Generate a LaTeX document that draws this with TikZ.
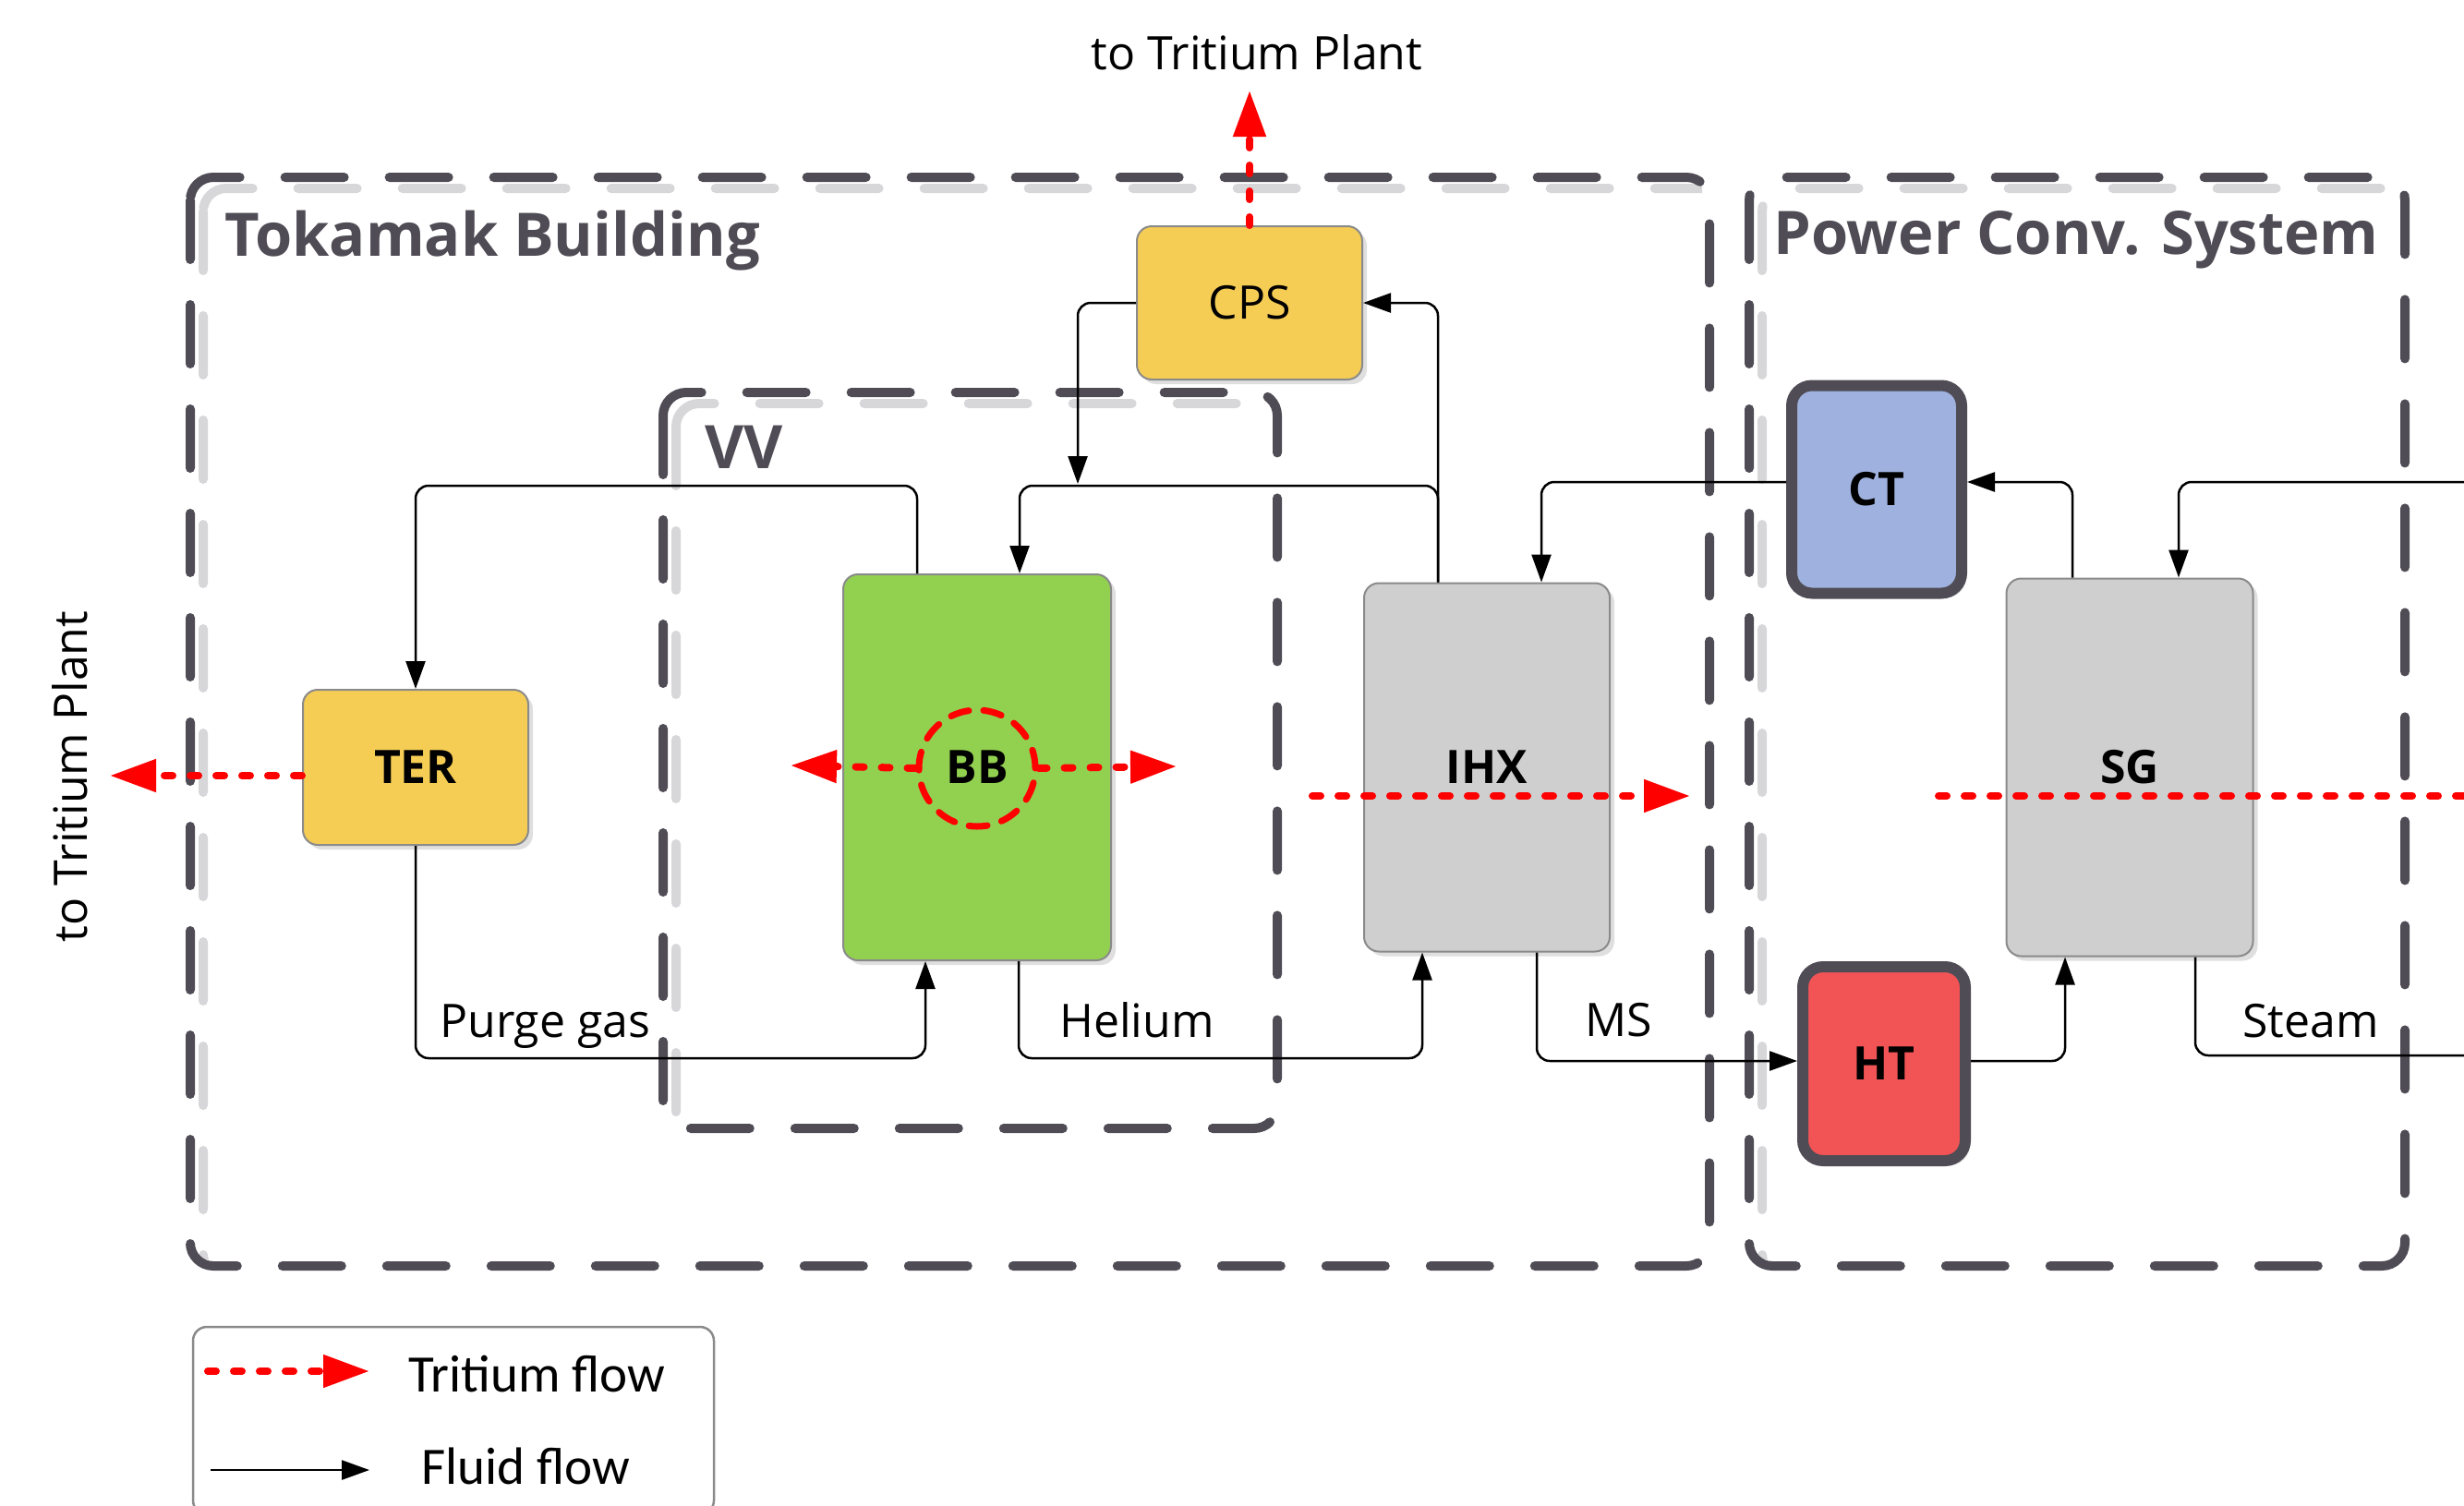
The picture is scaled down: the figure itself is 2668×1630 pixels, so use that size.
\documentclass[tikz,border=0pt]{standalone}
\usepackage{fontspec}
\setmainfont{Open Sans}
\newfontfamily\legendfont{Carlito}
\usetikzlibrary{arrows.meta,shadows,calc}
\definecolor{bnd}{HTML}{4F4C55}
\definecolor{bndsh}{HTML}{D7D7DA}
\definecolor{yel}{HTML}{F5CD55}
\definecolor{grn}{HTML}{92D050}
\definecolor{gry}{HTML}{CFCFCF}
\definecolor{gryb}{HTML}{8A8A8A}
\definecolor{blu}{HTML}{9FB1DE}
\definecolor{htred}{HTML}{F25355}
\definecolor{trired}{HTML}{FF0000}
\tikzset{
  boundary/.style={draw=bnd, line width=10pt, dash pattern=on 64pt off 49pt, line cap=round, rounded corners=25pt},
  boundsh/.style={boundary, draw=bndsh, xshift=14pt, yshift=-12pt},
  unitbox/.style={rectangle, rounded corners=16pt, draw=gryb, line width=2pt, inner sep=0pt,
    drop shadow={shadow xshift=5pt, shadow yshift=-5pt, opacity=0.25}},
  thickbox/.style={rectangle, rounded corners=22pt, draw=bnd, line width=12pt, inner sep=0pt,
    drop shadow={shadow xshift=5pt, shadow yshift=-5pt, opacity=0.25}},
  lbl/.style={font=\fontsize{50}{60}\selectfont, inner sep=0pt},
  blbl/.style={font=\fontsize{50}{60}\selectfont\bfseries},
  title/.style={font=\fontsize{65}{78}\selectfont\bfseries, text=bnd, inner sep=0pt},
  leg/.style={font=\legendfont\fontsize{57}{68}\selectfont, inner sep=0pt},
  pipe/.style={draw=black, line width=2.5pt, rounded corners=14pt},
  flow/.style={pipe, -{Triangle[length=30pt,width=21pt]}},
  tflow/.style={draw=trired, line width=8pt, dash pattern=on 9pt off 19pt, line cap=round,
    -{Triangle[length=50pt,width=34pt]}},
  tcirc/.style={circle, draw=trired, line width=7pt, dash pattern=on 20pt off 16pt, line cap=round,
    minimum size=126pt, inner sep=0pt}
}
\begin{document}
\begin{tikzpicture}[x=1pt,y=-1pt]
\useasboundingbox (0,0) rectangle (2668,1630);
\clip (0,0) rectangle (2668,1630);
% boundary shadows (in phase with the dashes, right and bottom edges clipped away)
\begin{scope}
\clip (190,180) rectangle (1843,1363);
\draw[boundsh] (206,192) rectangle (1851,1371);
\end{scope}
\begin{scope}
\clip (1880,180) rectangle (2596,1363);
\draw[boundsh] (1894,192) rectangle (2604,1371);
\end{scope}
\begin{scope}
\clip (705,410) rectangle (1375,1214);
\draw[boundsh] (718,425) rectangle (1383,1222);
\end{scope}
% boundaries
\draw[boundary] (206,192) rectangle (1851,1371);
\draw[boundary] (1894,192) rectangle (2604,1371);
\draw[boundary] (718,425) rectangle (1383,1222);
% titles
\node[title, anchor=base west] (ttok) at (243,277) {Tokamak Building};
\node[title, anchor=base west] (tpcs) at (1920,275) {Power Conv. System};
\node[title, anchor=base west] (tvv) at (763,507) {VV};
% units
\node[unitbox, fill=yel, minimum width=244pt, minimum height=166pt, lbl] (CPS) at (1353,328) {CPS};
\node[unitbox, fill=yel, minimum width=244pt, minimum height=168pt, blbl] (TER) at (450,831) {TER};
\node[unitbox, fill=grn, minimum width=290pt, minimum height=418pt, blbl] (BB) at (1058,831) {BB};
\node[unitbox, fill=gry, minimum width=266pt, minimum height=399pt, blbl] (IHX) at (1610,831) {IHX};
\node[unitbox, fill=gry, minimum width=267pt, minimum height=409pt, blbl] (SG) at (2306,831) {SG};
\node[thickbox, fill=blu, minimum width=184pt, minimum height=225pt, blbl] (CT) at (2032,530) {CT};
\node[thickbox, fill=htred, minimum width=176pt, minimum height=210pt, blbl] (HT) at (2040,1152) {HT};
% fluid connectors
\coordinate (join) at (1167,524);
\coordinate (rin) at (2700,522);
\coordinate (rout) at (2700,1143);
\draw[flow] (1557,0 |- IHX.north) -- (1557,526) -| (1104,0 |- BB.north);
\draw[flow] (1557,0 |- IHX.north) |- (CPS.east);
\draw[flow] (CPS.west) -| (join);
\draw[flow] (993,0 |- BB.north) -- (993,526) -| (TER.north);
\draw[flow] (TER.south) -- (450,1146) -| (1002,0 |- BB.south);
\draw[flow] (1103,0 |- BB.south) -- (1103,1146) -| (1540,0 |- IHX.south);
\draw[flow] (1664,0 |- IHX.south) |- ([yshift=3pt]HT.west);
\draw[flow] ([yshift=8pt]CT.west) -| (1669,0 |- IHX.north);
\draw[flow] (2244,0 |- SG.north) |- ([yshift=8pt]CT.east);
\draw[flow] (rin) -| (2359,0 |- SG.north);
\draw[flow] ([yshift=3pt]HT.east) -| (2236,0 |- SG.south);
\draw[pipe] (2377,0 |- SG.south) |- (rout);
% fluid labels
\node[lbl, anchor=base west] (lpurge) at (476,1123) {Purge gas};
\node[lbl, anchor=base west] (lhel) at (1147,1123) {Helium};
\node[lbl, anchor=base west] (lms) at (1716,1122) {MS};
\node[lbl, anchor=base west] (lsteam) at (2428,1123) {Steam};
% tritium flows
\node[tcirc] (bbc) at (1058,832) {};
\coordinate (topT) at (1353,98);
\coordinate (leftT) at (119,840);
\coordinate (bbL) at (856,829);
\coordinate (bbR) at (1274,830);
\coordinate (ihxS) at (1421,862);
\coordinate (ihxE) at (1830,862);
\coordinate (sgS) at (2099,862);
\coordinate (sgE) at (2700,862);
\draw[tflow] (CPS.north) -- (topT);
\draw[tflow] (TER.west |- leftT) -- (leftT);
\draw[tflow] (bbc.west) -- (bbL);
\draw[tflow] (bbc.east) -- (bbR);
\draw[tflow] (ihxS) -- (ihxE);
\draw[tflow, -] (sgS) -- (sgE);
% plant labels
\node[lbl, anchor=base] (ttop) at (1361,75) {to Tritium Plant};
\node[lbl, rotate=90] (tleft) at (76,841) {to Tritium Plant};
% legend
\node[draw=gryb, line width=2.5pt, rounded corners=15pt, minimum width=564pt, minimum height=203pt, inner sep=0pt] (legend) at (491,1538.5) {};
\coordinate (lr1) at (225,1485);
\coordinate (lr2) at (400,1485);
\coordinate (lb1) at (228,1592);
\coordinate (lb2) at (400,1592);
\draw[tflow] (lr1) -- (lr2);
\draw[flow] (lb1) -- (lb2);
\node[leg, anchor=base west] (ltri) at (442,1507) {Tritium flow};
\node[leg, anchor=base west] (lflu) at (456,1607) {Fluid flow};
\end{tikzpicture}
\end{document}
